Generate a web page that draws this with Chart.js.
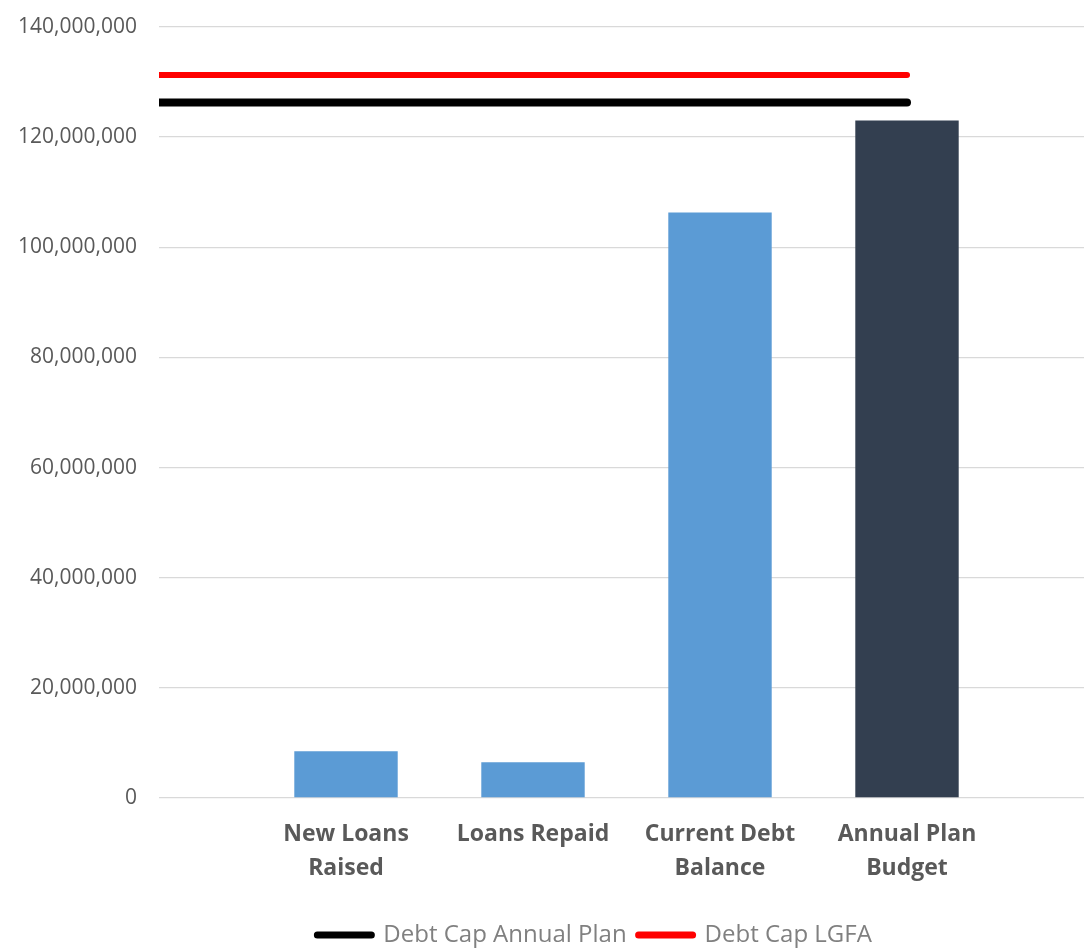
<!DOCTYPE html>
<html>
<head>
<meta charset="utf-8">
<script src="https://cdn.jsdelivr.net/npm/chart.js@4.4.1/dist/chart.umd.min.js"></script>
<style>
  html, body { margin: 0; padding: 0; background: #fff; overflow: hidden; }
  #wrap { width: 1105px; height: 957px; }
</style>
</head>
<body>
<div id="wrap"><canvas id="debtChart"></canvas></div>
<script>
// Categories (empty first/last slots give the Excel-like spacing of the caps lines)
const categories = [
  "",
  ["New Loans", "Raised"],
  "Loans Repaid",
  ["Current Debt", "Balance"],
  ["Annual Plan", "Budget"],
  ""
];

// Bar values
const debtValues = [null, 8500000, 6500000, 106300000, 123000000, null];
const barColors = ["#5B9BD5", "#5B9BD5", "#5B9BD5", "#5B9BD5", "#333F50", "#5B9BD5"];

// Cap lines
const capAnnualPlan = [126300000, 126300000, 126300000, 126300000, 126300000, null];
const capLGFA = [131300000, 131300000, 131300000, 131300000, 131300000, null];

// Y axis ticks
const yMax = 140000000;
const yStep = 20000000;

const FONT = "'Open Sans', 'Noto Sans', sans-serif";

// Legend entries: a blank spacer first so the two real items sit where Excel put them
function buildLegend(chart) {
  const items = [{
    text: " ",
    fillStyle: "rgba(0,0,0,0)",
    strokeStyle: "rgba(0,0,0,0)",
    lineWidth: 0,
    pointStyle: "line",
    fontColor: "rgba(0,0,0,0)",
    hidden: false,
    datasetIndex: -1
  }];
  chart.data.datasets.forEach((ds, i) => {
    if (ds.type !== "line") return;
    items.push({
      text: ds.label,
      fillStyle: ds.borderColor,
      strokeStyle: ds.borderColor,
      lineWidth: 7,
      lineCap: "round",
      pointStyle: "line",
      fontColor: "#808080",
      hidden: false,
      datasetIndex: i
    });
  });
  return items;
}

const ctx = document.getElementById("debtChart").getContext("2d");

new Chart(ctx, {
  data: {
    labels: categories,
    datasets: [
      {
        type: "bar",
        label: "Debt",
        data: debtValues,
        backgroundColor: barColors,
        borderWidth: 0,
        barPercentage: 1,
        categoryPercentage: 0.553,
        order: 2
      },
      {
        type: "line",
        label: "Debt Cap Annual Plan",
        data: capAnnualPlan,
        borderColor: "#000000",
        backgroundColor: "#000000",
        borderWidth: 8,
        borderCapStyle: "round",
        pointRadius: 0,
        fill: false,
        clip: 0,
        order: 1
      },
      {
        type: "line",
        label: "Debt Cap LGFA",
        data: capLGFA,
        borderColor: "#FF0000",
        backgroundColor: "#FF0000",
        borderWidth: 6,
        borderCapStyle: "round",
        pointRadius: 0,
        fill: false,
        clip: 0,
        order: 1
      }
    ]
  },
  options: {
    responsive: true,
    maintainAspectRatio: false,
    animation: false,
    layout: { padding: { top: 27, right: 0, bottom: 0, left: 0 } },
    scales: {
      x: {
        offset: false,
        grid: { display: false },
        border: { display: false },
        ticks: {
          color: "#595959",
          font: { family: FONT, size: 23, weight: "bold", lineHeight: 1.5 },
          padding: 11,
          maxRotation: 0,
          autoSkip: false
        },
        afterFit: (scale) => { scale.height = 113; }
      },
      y: {
        min: 0,
        max: yMax,
        // transparent tick marks keep the labels off the plot without extra top padding
        grid: { color: "#D9D9D9", lineWidth: 1.3, drawTicks: true, tickLength: 22, tickColor: "rgba(0,0,0,0)" },
        border: { display: false },
        ticks: {
          stepSize: yStep,
          color: "#595959",
          font: { family: FONT, size: 21 },
          padding: 0,
          callback: (v) => v.toLocaleString("en-US")
        },
        afterFit: (scale) => { scale.width = 159; }
      }
    },
    plugins: {
      tooltip: { enabled: false },
      legend: {
        position: "bottom",
        labels: {
          color: "#808080",
          font: { family: FONT, size: 24 },
          usePointStyle: true,
          pointStyleWidth: 54,
          padding: 12,
          generateLabels: buildLegend
        }
      }
    }
  }
});
</script>
</body>
</html>
